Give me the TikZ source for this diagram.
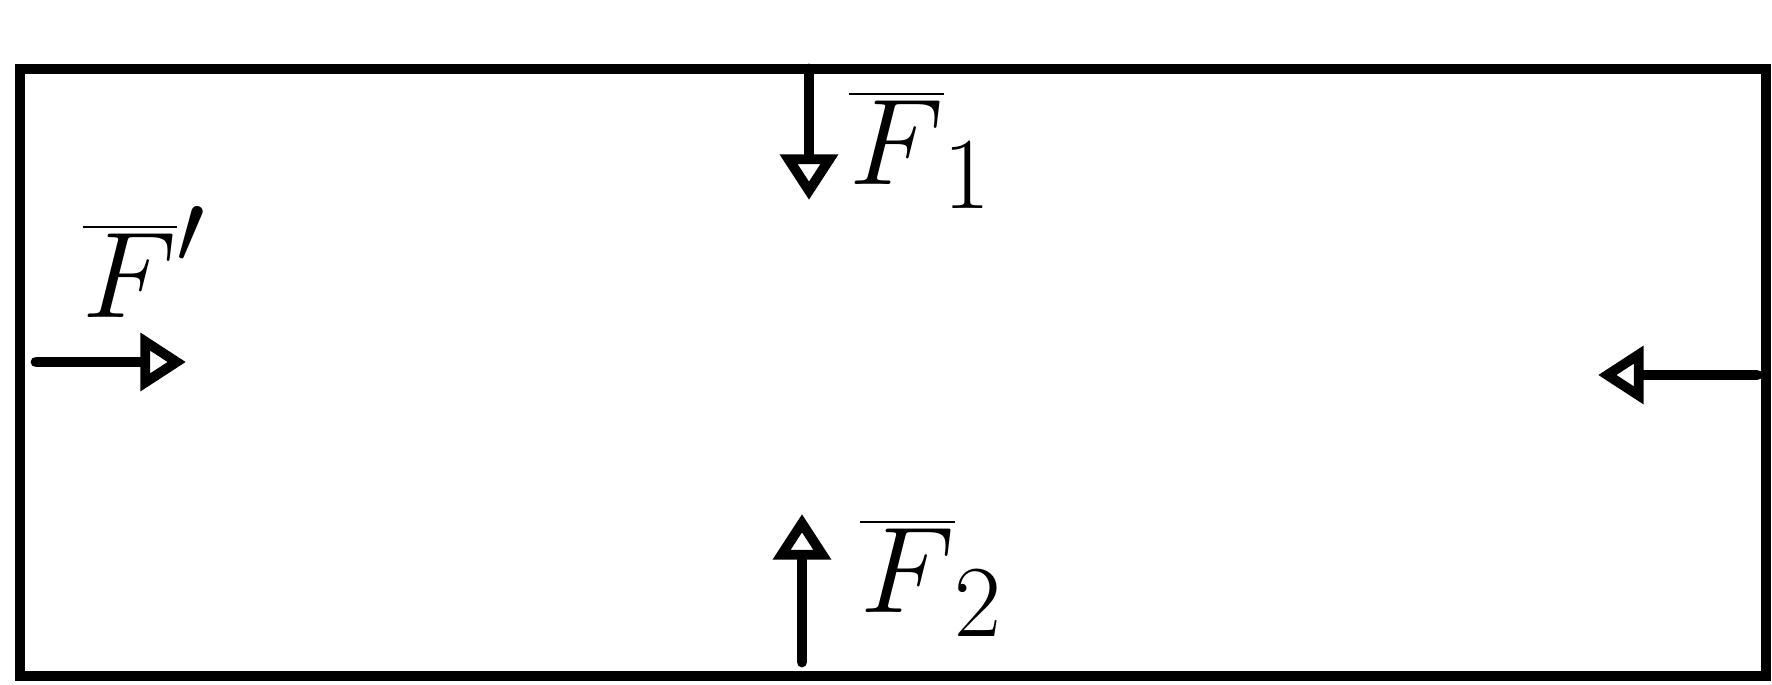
\documentclass[tikz,border=0pt]{standalone}
\usetikzlibrary{arrows.meta}

\tikzset{
  wall/.style={line width=3.1pt, line cap=round},
  force/.style={line width=3.1pt, line cap=round,
    -{Triangle[open, length=13pt, width=16pt, line width=2.8pt]}},
  flabel/.style={font=\Huge, scale=1.4, transform shape, inner sep=0pt}
}

\begin{document}
\begin{tikzpicture}[x=0.01cm, y=-0.01cm]
  % Frame: one pixel of the sketch = 0.01cm.
  \useasboundingbox (0,0) rectangle (1772,685);
  \fill[white] (0,0) rectangle (1772,685);

  % Corners of the box.
  \coordinate (tl) at (20,69);
  \coordinate (tr) at (1766,69);
  \coordinate (br) at (1766,676);
  \coordinate (bl) at (20,676);
  \draw[wall] (tl) -- (tr) -- (br) -- (bl) -- cycle;

  % Feet of the forces on the walls.
  \coordinate (topfoot) at (809,69);
  \coordinate (topend) at (809,200);
  \coordinate (botfoot) at (802,662);
  \coordinate (botend) at (802,514);
  \coordinate (leftfoot) at (36,362);
  \coordinate (leftend) at (186,362);
  \coordinate (rightfoot) at (1757,375);
  \coordinate (rightend) at (1598,375);

  % Forces.
  \draw[force] (topfoot) -- (topend);
  \draw[force] (botfoot) -- (botend);
  \draw[force] (leftfoot) -- (leftend);
  \draw[force] (rightfoot) -- (rightend);

  % Labels.
  \node[flabel] (fone) at (921,150) {$\overline{F}_1$};
  \node[flabel] (ftwo) at (932,578) {$\overline{F}_2$};
  \node[flabel] (fprime) at (145,262) {$\overline{F}'$};
\end{tikzpicture}
\end{document}
